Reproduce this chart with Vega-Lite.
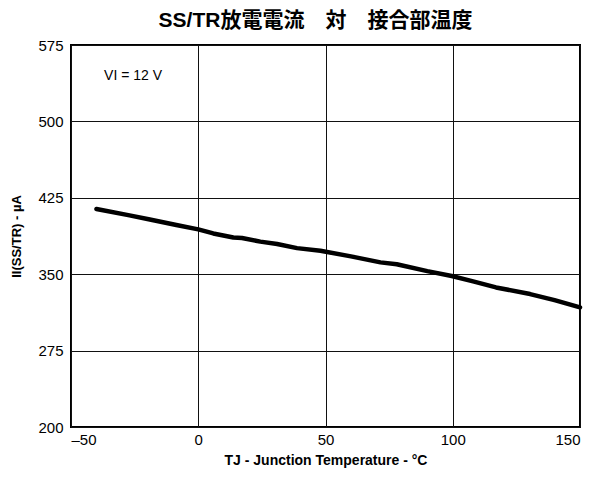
{
  "$schema": "https://vega.github.io/schema/vega-lite/v6.json",
  "autosize": "none",
  "padding": {"left": 71, "top": 45, "right": 13, "bottom": 52},
  "width": 509,
  "height": 382,
  "background": "white",
  "config": {
    "font": "Liberation Sans",
    "view": {"stroke": "black", "strokeWidth": 2},
    "axis": {"grid": true, "gridColor": "#111", "gridOpacity": 1, "gridWidth": 1, "domain": false, "ticks": false, "labelColor": "black", "titleColor": "black", "labelFont": "Liberation Sans", "titleFont": "Liberation Sans"}
  },
  "title": {
    "text": "SS/TR放電電流　対　接合部温度",
    "font": "Liberation Sans, Noto Sans CJK JP",
    "fontSize": 21,
    "fontWeight": "bold",
    "color": "black",
    "offset": 7,
    "dx": -10
  },
  "data": {
    "values": [
      {"T": -40, "I": 414},
      {"T": -27.5, "I": 408},
      {"T": -19.5, "I": 404},
      {"T": -8.6, "I": 398.3},
      {"T": 0, "I": 394},
      {"T": 5.9, "I": 390},
      {"T": 13.8, "I": 386},
      {"T": 17.2, "I": 385.5},
      {"T": 24.4, "I": 382},
      {"T": 31, "I": 379.6},
      {"T": 38.8, "I": 375.6},
      {"T": 48, "I": 373},
      {"T": 60, "I": 367.5},
      {"T": 71.6, "I": 361.6},
      {"T": 78, "I": 359.8},
      {"T": 90, "I": 353},
      {"T": 99.6, "I": 348.2},
      {"T": 108, "I": 343},
      {"T": 117, "I": 337},
      {"T": 130.4, "I": 330.5},
      {"T": 140, "I": 324.5},
      {"T": 150, "I": 317.5}
    ]
  },
  "layer": [
    {
      "mark": {"type": "line", "color": "black", "strokeWidth": 4.5, "strokeJoin": "round", "strokeCap": "round"},
      "encoding": {
        "x": {
          "field": "T", "type": "quantitative",
          "scale": {"domain": [-50, 150], "nice": false},
          "axis": {
            "values": [-50, 0, 50, 100, 150],
            "labelExpr": "datum.value < 0 ? '–' + abs(datum.value) : datum.label",
            "labelFontSize": 15,
            "labelPadding": 5,
            "title": "TJ - Junction Temperature - °C",
            "titleFontSize": 14,
            "titleFontWeight": "bold",
            "titlePadding": 6
          }
        },
        "y": {
          "field": "I", "type": "quantitative",
          "scale": {"domain": [200, 575], "nice": false, "zero": false},
          "axis": {
            "values": [200, 275, 350, 425, 500, 575],
            "labelFontSize": 15,
            "labelPadding": 8,
            "title": "II(SS/TR) - µA",
            "titleFontSize": 13,
            "titleFontWeight": "bold",
            "titlePadding": 14
          }
        }
      }
    },
    {
      "data": {"values": [{"T": -37, "I": 545, "label": "VI = 12 V"}]},
      "mark": {"type": "text", "align": "left", "baseline": "middle", "fontSize": 14, "color": "black", "font": "Liberation Sans"},
      "encoding": {
        "x": {"field": "T", "type": "quantitative"},
        "y": {"field": "I", "type": "quantitative"},
        "text": {"field": "label"}
      }
    }
  ]
}
